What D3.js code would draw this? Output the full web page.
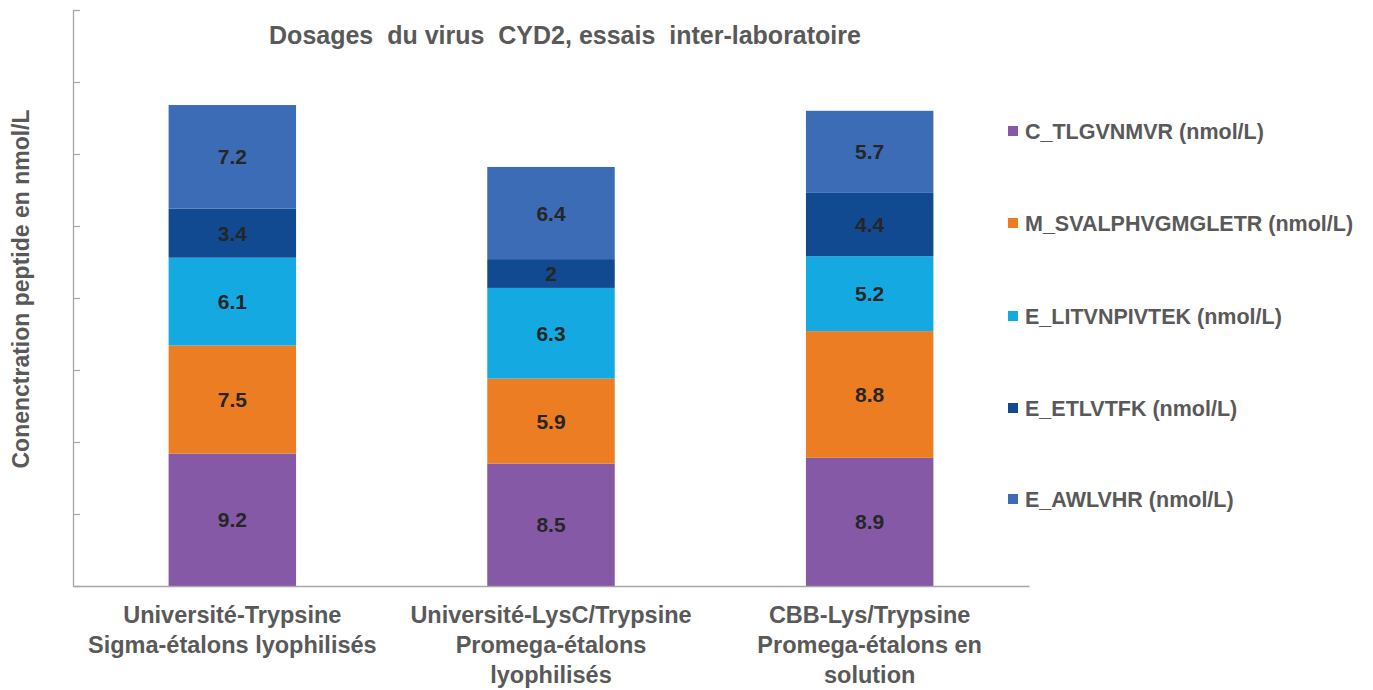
<!DOCTYPE html>
<html>
<head>
<meta charset="utf-8">
<script src="https://cdn.jsdelivr.net/npm/d3@7"></script>
<style>
  html, body { margin: 0; padding: 0; background: #fff; }
  svg { display: block; font-family: "Liberation Sans", Arial, sans-serif; }
</style>
</head>
<body>
<svg id="chart" width="1373" height="690"></svg>
<script>
// Categories (one stacked bar each), multi-line labels
const categories = [
  ["Université-Trypsine", "Sigma-étalons lyophilisés"],
  ["Université-LysC/Trypsine", "Promega-étalons", "lyophilisés"],
  ["CBB-Lys/Trypsine", "Promega-étalons en", "solution"]
];

// Series, bottom of the stack first
const seriesNames = [
  "C_TLGVNMVR (nmol/L)",
  "M_SVALPHVGMGLETR (nmol/L)",
  "E_LITVNPIVTEK (nmol/L)",
  "E_ETLVTFK (nmol/L)",
  "E_AWLVHR (nmol/L)"
];
const C_TLGVNMVR = [9.2, 8.5, 8.9];
const M_SVALPHVGMGLETR = [7.5, 5.9, 8.8];
const E_LITVNPIVTEK = [6.1, 6.3, 5.2];
const E_ETLVTFK = [3.4, 2, 4.4];
const E_AWLVHR = [7.2, 6.4, 5.7];
const seriesValues = [C_TLGVNMVR, M_SVALPHVGMGLETR, E_LITVNPIVTEK, E_ETLVTFK, E_AWLVHR];
const seriesColors = ["#8559A5", "#ED7D22", "#15A9E1", "#114A91", "#3C6CB5"];

const yMax = 40;
const yTickStep = 5;

const title = "Dosages  du virus  CYD2, essais  inter-laboratoire";
const yTitle = "Conenctration peptide en nmol/L";

const svg = d3.select("#chart");
const plot = { left: 73, right: 1029, top: 10, bottom: 586 };

const keys = categories.map((c, i) => i);
const x = d3.scaleBand()
  .domain(keys)
  .range([plot.left, plot.right])
  .paddingInner(0.6)
  .paddingOuter(0.3);

const y = d3.scaleLinear().domain([0, yMax]).range([plot.bottom, plot.top]);

// Build rows for d3.stack
const rows = keys.map(i => {
  const r = { key: i };
  seriesNames.forEach((s, j) => { r[s] = seriesValues[j][i]; });
  return r;
});
const stacked = d3.stack().keys(seriesNames)(rows);

// Y axis: line with inward ticks, no labels
const yAxis = d3.axisRight(y)
  .tickValues(d3.range(0, yMax + 0.001, yTickStep))
  .tickSize(7)
  .tickSizeOuter(0)
  .tickFormat("");
const gy = svg.append("g").attr("transform", `translate(${plot.left},0)`).call(yAxis);
gy.selectAll("path, line").attr("stroke", "#A6A6A6").attr("stroke-width", 1.3);

// Stacked bars
const layers = svg.append("g").selectAll("g")
  .data(stacked)
  .join("g")
  .attr("fill", (d, j) => seriesColors[j]);

layers.selectAll("rect")
  .data(d => d)
  .join("rect")
  .attr("x", d => x(d.data.key))
  .attr("width", x.bandwidth())
  .attr("y", d => y(d[1]))
  .attr("height", d => y(d[0]) - y(d[1]));

// Value labels centred in each segment
layers.selectAll("text")
  .data(d => d.map(v => ({ v, val: v[1] - v[0] })))
  .join("text")
  .attr("x", d => x(d.v.data.key) + x.bandwidth() / 2)
  .attr("y", d => (y(d.v[0]) + y(d.v[1])) / 2)
  .attr("dy", "0.36em")
  .attr("text-anchor", "middle")
  .attr("fill", "#262626")
  .attr("font-size", 21)
  .attr("font-weight", "bold")
  .text(d => d3.format("~g")(d.val));

// X axis baseline
const xAxis = d3.axisBottom(x).tickSize(0).tickFormat("");
const gx = svg.append("g").attr("transform", `translate(0,${plot.bottom})`).call(xAxis);
gx.select("path").attr("stroke", "#A6A6A6").attr("stroke-width", 1.5);

// Category labels
const catG = svg.append("g");
categories.forEach((lines, i) => {
  const cx = x(i) + x.bandwidth() / 2;
  const t = catG.append("text")
    .attr("x", cx)
    .attr("y", 623)
    .attr("text-anchor", "middle")
    .attr("fill", "#595959")
    .attr("font-size", 23.5)
    .attr("font-weight", "bold");
  lines.forEach((ln, k) => {
    t.append("tspan").attr("x", cx).attr("dy", k === 0 ? 0 : 30).text(ln);
  });
});

// Title
svg.append("text")
  .attr("x", 565)
  .attr("y", 44)
  .attr("text-anchor", "middle")
  .attr("fill", "#595959")
  .attr("font-size", 25)
  .attr("font-weight", "bold")
  .attr("xml:space", "preserve")
  .style("white-space", "pre")
  .text(title);

// Y axis title
svg.append("text")
  .attr("transform", `translate(29,289) rotate(-90)`)
  .attr("text-anchor", "middle")
  .attr("fill", "#595959")
  .attr("font-size", 23)
  .attr("font-weight", "bold")
  .text(yTitle);

// Legend, top to bottom from the first series
const legendY = [131, 223, 316, 408, 499];
const legend = svg.append("g");
seriesNames.forEach((s, j) => {
  legend.append("rect")
    .attr("x", 1008).attr("y", legendY[j] - 5)
    .attr("width", 10).attr("height", 10)
    .attr("fill", seriesColors[j]);
  legend.append("text")
    .attr("x", 1025).attr("y", legendY[j])
    .attr("dy", "0.36em")
    .attr("fill", "#595959")
    .attr("font-size", 21.5)
    .attr("font-weight", "bold")
    .text(s);
});
</script>
</body>
</html>
